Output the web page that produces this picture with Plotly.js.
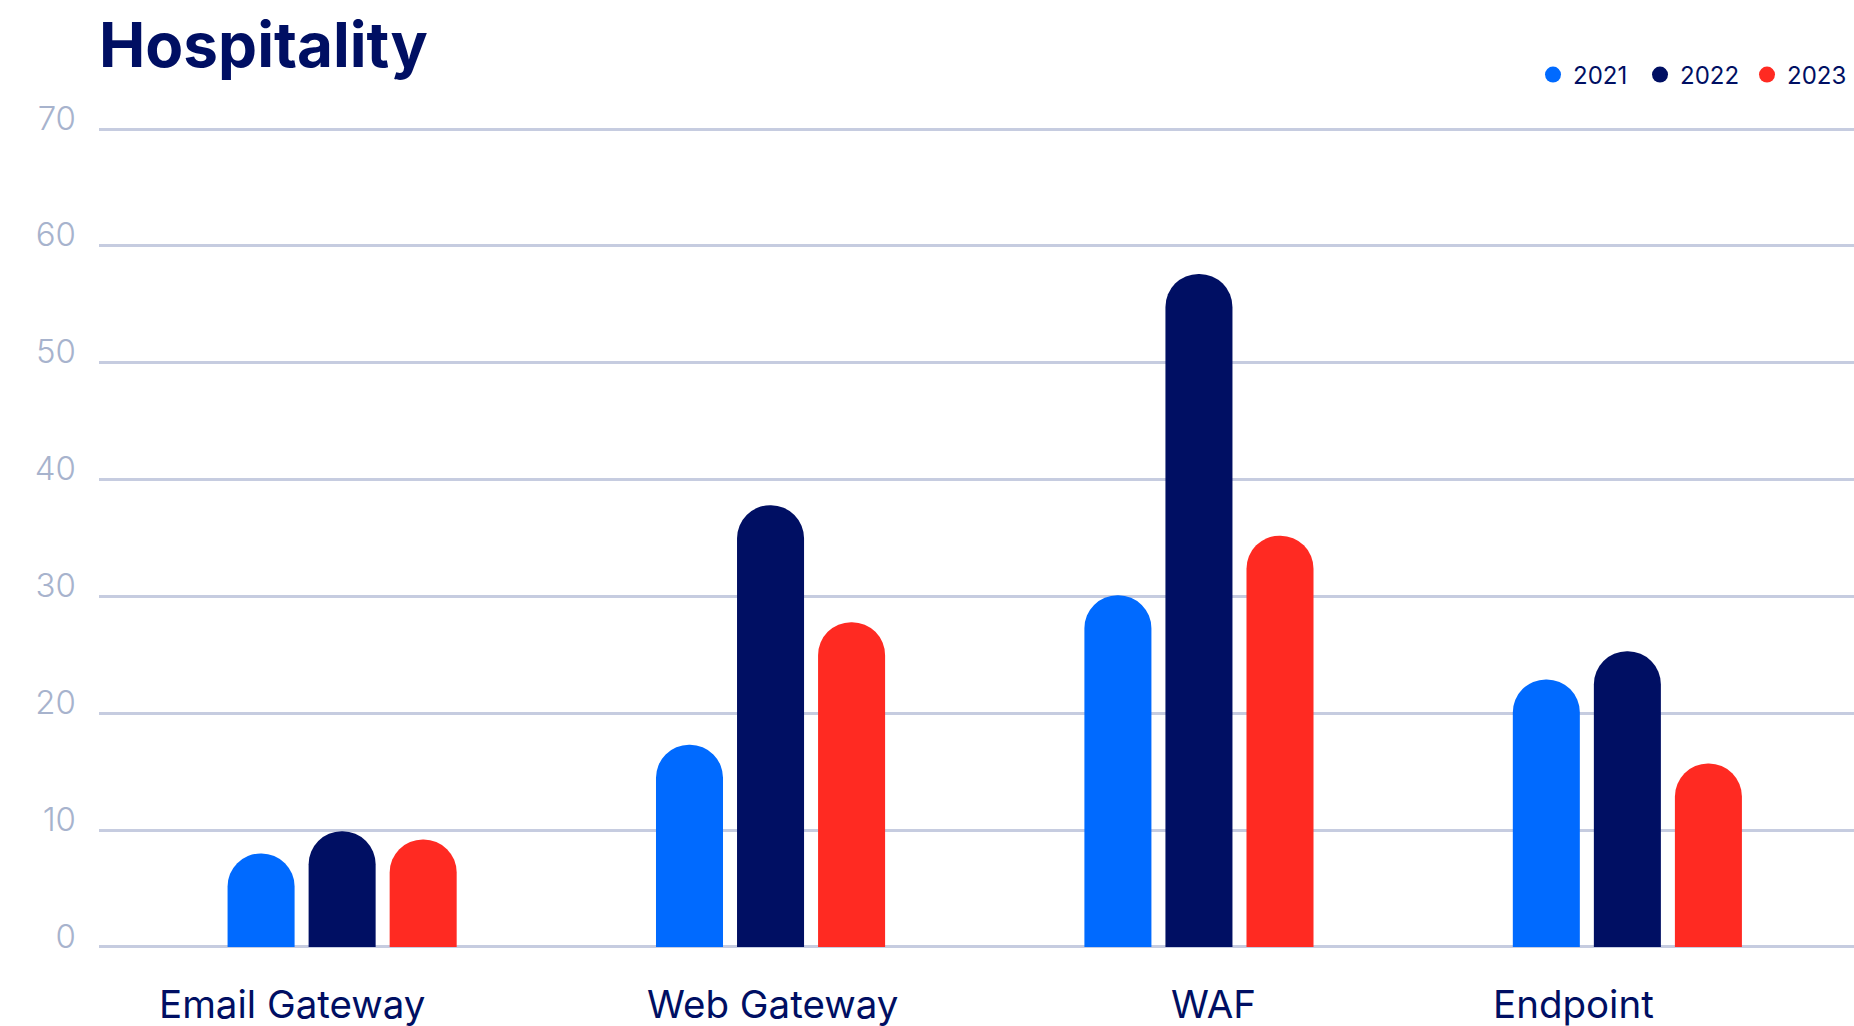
<!DOCTYPE html>
<html>
<head>
<meta charset="utf-8">
<script src="https://cdn.plot.ly/plotly-3.0.1.min.js"></script>
<style>
  html, body { margin: 0; padding: 0; background: #ffffff; }
  #chart { width: 1854px; height: 1026px; }
</style>
</head>
<body>
<div id="chart"></div>
<script>
// Security controls compared across three survey years
const categories = ['Email Gateway', 'Web Gateway', 'WAF', 'Endpoint'];
const years = ['2021', '2022', '2023'];
const values2021 = [8.0, 17.3, 30.1, 22.9];
const values2022 = [9.9, 37.8, 57.6, 25.3];
const values2023 = [9.2, 27.8, 35.2, 15.7];
const yTicks = [0, 10, 20, 30, 40, 50, 60, 70];

const seriesValues = [values2021, values2022, values2023];
const colors = ['#006aff', '#000f63', '#ff2a22'];
const navy = '#000f63';
const fontFamily = 'Inter, "Open Sans", sans-serif';

// Category captions sit under the groups, nudged per group (paper fractions)
const captionX = [0.110, 0.3835, 0.6353, 0.8399];

// Rounded-top bars, one trace per year
const barTraces = years.map((yr, i) => ({
  type: 'bar',
  name: yr,
  x: categories,
  y: seriesValues[i],
  marker: { color: colors[i], cornerradius: '50%', line: { width: 0 } },
  showlegend: false,
  hoverinfo: 'x+y+name'
}));

// Circular legend swatches
const legendTraces = years.map((yr, i) => ({
  type: 'scatter',
  mode: 'markers',
  name: yr,
  x: [null],
  y: [null],
  marker: { color: colors[i], size: 18, symbol: 'circle' },
  showlegend: true,
  hoverinfo: 'skip'
}));

const captions = categories.map((c, i) => ({
  text: c,
  xref: 'paper', x: captionX[i], xanchor: 'center',
  yref: 'paper', y: 0, yanchor: 'middle', yshift: -54,
  showarrow: false,
  font: { family: fontFamily, size: 38.5, color: navy }
}));

const layout = {
  width: 1854,
  height: 1026,
  paper_bgcolor: '#ffffff',
  plot_bgcolor: '#ffffff',
  margin: { l: 99, r: 0, t: 126, b: 76, pad: 0 },
  barmode: 'group',
  bargap: 0.4325,
  bargroupgap: 0.173,
  title: {
    text: '<b>Hospitality</b>',
    font: { family: fontFamily, size: 62, color: navy },
    xref: 'container', x: 99 / 1854, xanchor: 'left',
    yref: 'container', y: 1 - 45 / 1026, yanchor: 'middle'
  },
  showlegend: true,
  legend: {
    orientation: 'h',
    xref: 'container', x: 1, xanchor: 'right',
    yref: 'container', y: 1 - 75 / 1026, yanchor: 'middle',
    font: { family: fontFamily, size: 24, color: navy },
    entrywidth: 62,
    bgcolor: 'rgba(0,0,0,0)',
    itemclick: false, itemdoubleclick: false
  },
  annotations: captions,
  xaxis: {
    type: 'category',
    range: [-0.5675, 3.529],
    showgrid: false,
    zeroline: false,
    showline: false,
    ticks: '',
    showticklabels: false,
    fixedrange: true
  },
  yaxis: {
    range: [-0.26, 70.26],
    tickvals: yTicks,
    ticktext: yTicks.map(String),
    showgrid: true,
    gridcolor: '#c6cce0',
    gridwidth: 2.5,
    zeroline: false,
    showline: false,
    ticks: '',
    ticklabelstandoff: 22,
    ticklabelshift: -11,
    tickfont: { family: fontFamily, size: 33, color: '#a7b3cd', weight: 300 },
    fixedrange: true
  }
};

Plotly.newPlot('chart', barTraces.concat(legendTraces), layout, { displayModeBar: false });
</script>
</body>
</html>
